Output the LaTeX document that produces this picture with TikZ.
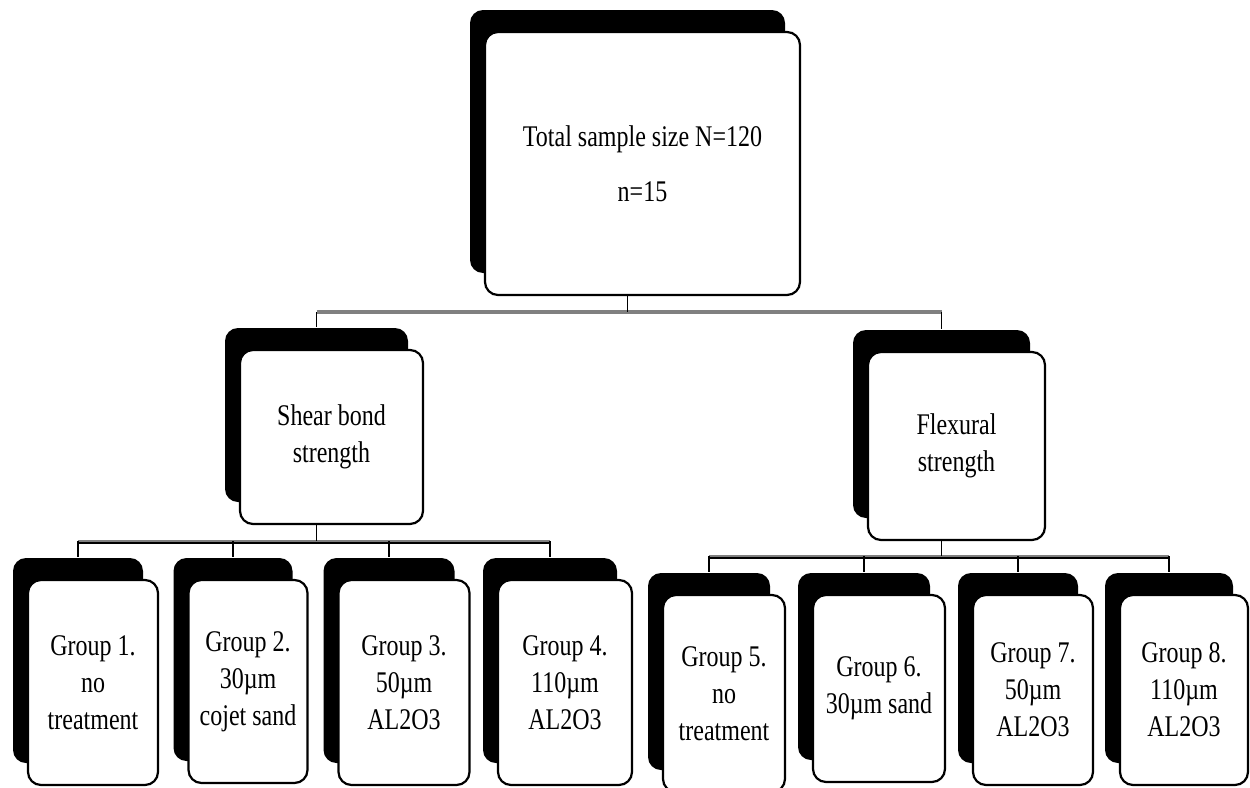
\documentclass[tikz,border=0pt]{standalone}
\usepackage{fontspec}
\setmainfont{Liberation Serif}[FakeStretch=0.8]
\usetikzlibrary{shadows,calc}

\tikzset{
  box/.style={draw=black, line width=2.2pt, fill=white, rounded corners=13pt,
    inner sep=0pt, align=center,
    font=\fontsize{30}{37}\selectfont,
    general shadow={fill=black, shadow xshift=-15pt, shadow yshift=22pt}},
  vline/.style={draw=black, line width=1.6pt},
  topbar/.style={draw=black!50, line width=3.4pt},
  greybar/.style={draw=black!50, line width=2.6pt},
  darkbar/.style={draw=black, line width=1.4pt}
}

\begin{document}
\begin{tikzpicture}[x=1pt, y=-1pt]
  \useasboundingbox (0,0) rectangle (1250,787);
  \clip (0,0) rectangle (1250,787);

  % level 0
  \node[box, minimum width=315pt, minimum height=263pt] (top) at (642.5,163.5)
    {Total sample size N=120\\[18pt] n=15};

  % level 1
  \node[box, minimum width=183pt, minimum height=174pt] (shear) at (331.5,437)
    {Shear bond\\strength};
  \node[box, minimum width=177pt, minimum height=188pt] (flex) at (956.5,446)
    {Flexural\\strength};

  % level 2, shear bond strength
  \node[box, minimum width=130pt, minimum height=205pt] (g1) at (93,682.5)
    {Group 1.\\no\\treatment};
  \node[box, minimum width=119pt, minimum height=203pt] (g2) at (248,681.5)
    {Group 2.\\30µm\\cojet sand};
  \node[box, minimum width=131pt, minimum height=205pt] (g3) at (404,682.5)
    {Group 3.\\50µm\\AL2O3};
  \node[box, minimum width=134pt, minimum height=205pt] (g4) at (565,682.5)
    {Group 4.\\110µm\\AL2O3};

  % level 2, flexural strength
  \node[box, minimum width=122pt, minimum height=197pt] (g5) at (724,693.5)
    {Group 5.\\no\\treatment};
  \node[box, minimum width=132pt, minimum height=187pt] (g6) at (879,688.5)
    {Group 6.\\30µm sand};
  \node[box, minimum width=120pt, minimum height=190pt] (g7) at (1033,690)
    {Group 7.\\50µm\\AL2O3};
  \node[box, minimum width=128pt, minimum height=190pt] (g8) at (1184,690)
    {Group 8.\\110µm\\AL2O3};

  % attachment points, on the centre line of each shadow
  \coordinate (topout)   at ($(top.south)+(-15,0)$);
  \coordinate (shearin)  at ($(shear.north)+(-15,-22)$);
  \coordinate (shearout) at ($(shear.south)+(-15,0)$);
  \coordinate (flexin)   at ($(flex.north)+(-15,-22)$);
  \coordinate (flexout)  at ($(flex.south)+(-15,0)$);
  \foreach \g in {g1,g2,g3,g4,g5,g6,g7,g8}
    \coordinate (\g in) at ($(\g.north)+(-15,-22)$);

  % bar heights
  \coordinate (bar0) at (0,312);
  \coordinate (bar1) at (0,541);
  \coordinate (bar2) at (0,556);

  % top split
  \draw[topbar] (shearin |- bar0) -- (flexin |- bar0);
  \draw[vline] (topout) -- (topout |- bar0);
  \draw[vline] (shearin |- bar0) -- (shearin);
  \draw[vline] (flexin |- bar0) -- (flexin);

  % shear bond split
  \draw[greybar] (g1in |- bar1) -- (g4in |- bar1);
  \draw[darkbar] ($(g1in |- bar1)+(0,2)$) -- ($(g4in |- bar1)+(0,2)$);
  \draw[vline] (shearout) -- (shearout |- bar1);
  \foreach \g in {g1,g2,g3,g4}
    \draw[vline] (\g in |- bar1) -- (\g in);

  % flexural split
  \draw[greybar] (g5in |- bar2) -- (g8in |- bar2);
  \draw[darkbar] ($(g5in |- bar2)+(0,2)$) -- ($(g8in |- bar2)+(0,2)$);
  \draw[vline] (flexout) -- (flexout |- bar2);
  \foreach \g in {g5,g6,g7,g8}
    \draw[vline] (\g in |- bar2) -- (\g in);
\end{tikzpicture}
\end{document}
